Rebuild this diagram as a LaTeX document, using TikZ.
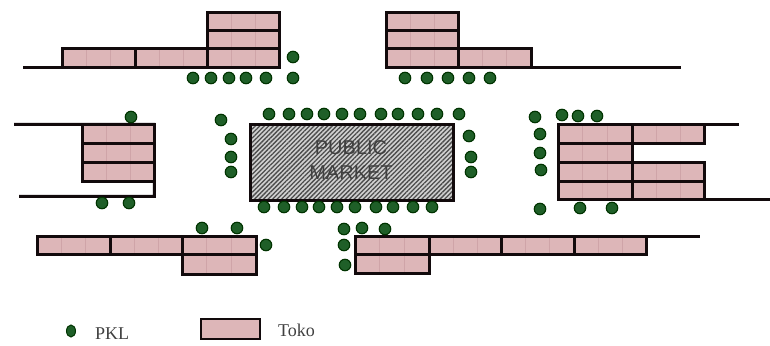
\documentclass[tikz,border=0pt]{standalone}
\usepackage{fontspec}
\setmainfont{Liberation Serif}
\newfontfamily\mktfont{Liberation Sans}
\usetikzlibrary{patterns.meta,shapes.geometric}
\definecolor{tokofill}{HTML}{DDB6B8}
\definecolor{tokoline}{HTML}{CFA4A8}
\definecolor{pklgreen}{HTML}{1F5F28}
\definecolor{inkblack}{HTML}{120A0C}
\newcommand{\toko}[4]{%
  \fill[tokofill] (#1,#2) rectangle (#3,#4);
  \draw[tokoline,line width=0.6pt] ({#1+(#3-#1)/3},#2) -- ({#1+(#3-#1)/3},#4)
    ({#1+2*(#3-#1)/3},#2) -- ({#1+2*(#3-#1)/3},#4);
  \draw[wall] (#1,#2) rectangle (#3,#4);}
\begin{document}
\begin{tikzpicture}[x=1pt,y=-1pt,
  wall/.style={draw=inkblack,line width=3pt,line cap=rect},
  road/.style={draw=inkblack,line width=3pt},
  pkl/.style={circle,draw=black!80!green,fill=pklgreen,line width=1.1pt,minimum size=11.5pt,inner sep=0pt},
  lbl/.style={font=\fontsize{18}{18}\selectfont,text=black!75,inner sep=0pt,anchor=west},
  mkt/.style={font=\mktfont\fontsize{20}{20}\selectfont,text=black!75,inner sep=0pt}]
\useasboundingbox (0,0) rectangle (770,345);
% roads
\draw[road] (23,67.4) -- (280,67.4);
\draw[road] (386,67.4) -- (681,67.4);
\draw[road] (14,124.4) -- (154,124.4) -- (154.4,196.4) -- (19,196.4);
\draw[road] (558,124.4) -- (739,124.4);
\draw[road] (558,199.4) -- (770,199.4);
\draw[road] (355,236.4) -- (700,236.4);
% top left
\toko{62}{49}{135}{67}\toko{135}{49}{207}{67}
\toko{207}{13}{279}{31}\toko{207}{31}{279}{49}\toko{207}{49}{279}{67}
% top centre
\toko{386}{13}{458}{31}\toko{386}{31}{458}{49}\toko{386}{49}{458}{67}
\toko{458}{49}{531}{67}
% left
\toko{82}{124}{154}{143}\toko{82}{143}{154}{162}\toko{82}{162}{154}{181}
% right
\toko{558}{124}{632}{143}\toko{632}{124}{704}{143}
\toko{558}{143}{632}{162}
\toko{558}{162}{632}{181}\toko{632}{162}{704}{181}
\toko{558}{181}{632}{199}\toko{632}{181}{704}{199}
% bottom left
\toko{37}{236}{110}{254}\toko{110}{236}{182}{254}
\toko{182}{236}{256}{254}\toko{182}{254}{256}{274}
% bottom right
\toko{355}{236}{429}{254}\toko{355}{254}{429}{273}
\toko{429}{236}{501}{254}\toko{501}{236}{574}{254}\toko{574}{236}{646}{254}
% market
\fill[black!18] (250,124) rectangle (453,200);
\fill[pattern={Lines[angle=45,distance=3.2pt,line width=1.3pt]},pattern color=black!70] (250,124) rectangle (453,200);
\draw[wall] (250,124) rectangle (453,200);
\node[mkt] (public) at (351,148) {PUBLIC};
\node[mkt] (market) at (351,173) {MARKET};
% street vendors
\foreach \x/\y in {193/78,211/78,229/78,246/78,266/78,293/78,293/57,
  405/78,427/78,448/78,469/78,490/78,
  131/117,102/203,129/203,
  221/120,231/139,231/157,231/172,
  269/114,289/114,307/114,324/114,342/114,360/114,381/114,398/114,418/114,437/114,459/114,
  264/207,284/207,302/207,319/207,337/207,355/207,376/207,393/207,413/207,432/207,
  469/136,471/157,471/172,
  535/117,562/115,578/116,597/116,540/134,540/153,541/170,540/209,580/208,612/208,
  202/228,237/228,266/245,
  344/229,362/228,385/229,344/245,345/265}
  \node[pkl] at (\x,\y) {};
% legend
\node[ellipse,draw=black!80!green,fill=pklgreen,line width=1pt,inner sep=0pt,minimum width=9pt,minimum height=12pt] (legdot) at (71,331) {};
\node[lbl] (legpkl) at (95,334) {PKL};
\fill[tokofill] (201,319) rectangle (260,339);
\draw[inkblack,line width=1.4pt] (201,319) rectangle (260,339);
\node[lbl] (legtoko) at (278,330) {Toko};
\end{tikzpicture}
\end{document}
